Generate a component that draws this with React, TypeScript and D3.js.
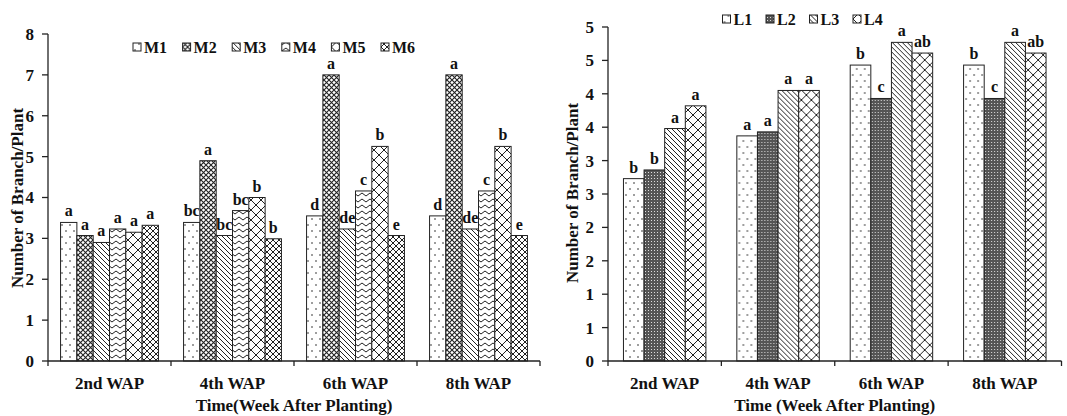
import React from "react";
import * as d3 from "d3";

// ---- data ----
const weeks = ["2nd WAP", "4th WAP", "6th WAP", "8th WAP"];

const mSeries = ["M1", "M2", "M3", "M4", "M5", "M6"];
const mValues = [
  [3.39, 3.07, 2.9, 3.23, 3.15, 3.32],
  [3.39, 4.9, 3.07, 3.68, 4.0, 2.99],
  [3.55, 7.0, 3.23, 4.16, 5.25, 3.07],
  [3.55, 7.0, 3.23, 4.16, 5.25, 3.07],
];
const mLetters = [
  ["a", "a", "a", "a", "a", "a"],
  ["bc", "a", "bc", "bc", "b", "b"],
  ["d", "a", "de", "c", "b", "e"],
  ["d", "a", "de", "c", "b", "e"],
];
const mTicks = [0, 1, 2, 3, 4, 5, 6, 7, 8];

const lSeries = ["L1", "L2", "L3", "L4"];
const lValues = [
  [2.73, 2.86, 3.48, 3.82],
  [3.37, 3.43, 4.05, 4.05],
  [4.43, 3.93, 4.77, 4.61],
  [4.43, 3.93, 4.77, 4.61],
];
const lLetters = [
  ["b", "b", "a", "a"],
  ["a", "a", "a", "a"],
  ["b", "c", "a", "ab"],
  ["b", "c", "a", "ab"],
];
const lTicks = [0, 0.5, 1, 1.5, 2, 2.5, 3, 3.5, 4, 4.5, 5];

const INK = "#222";
const FONT = "'Liberation Serif', 'Times New Roman', serif";

const mPatterns = ["dots", "fine", "diag", "zig", "bigx", "midx"];
const lPatterns = ["dots", "dense", "diag", "bigx"];

function Patterns() {
  return (
    <defs>
      <pattern id="dots" width="8" height="12" patternUnits="userSpaceOnUse">
        <rect width="8" height="12" fill="#fff" />
        <circle cx="2" cy="3" r="0.8" fill={INK} />
        <circle cx="6" cy="9" r="0.8" fill={INK} />
      </pattern>
      <pattern id="fine" width="5" height="5" patternUnits="userSpaceOnUse">
        <rect width="5" height="5" fill="#fff" />
        <path d="M0,0L5,5M5,0L0,5" stroke={INK} strokeWidth="1.1" />
      </pattern>
      <pattern id="dense" width="3" height="3" patternUnits="userSpaceOnUse">
        <rect width="3" height="3" fill="#555" />
        <rect x="1" y="1" width="1" height="1" fill="#ddd" />
      </pattern>
      <pattern id="diag" width="5" height="5" patternUnits="userSpaceOnUse">
        <rect width="5" height="5" fill="#fff" />
        <path d="M-1,-1L6,6M-1,4L1,6M4,-1L6,1" stroke={INK} strokeWidth="1" />
      </pattern>
      <pattern id="zig" width="8" height="6" patternUnits="userSpaceOnUse">
        <rect width="8" height="6" fill="#fff" />
        <path d="M0,4L4,1L8,4" fill="none" stroke={INK} strokeWidth="1" />
      </pattern>
      <pattern id="bigx" width="10" height="10" patternUnits="userSpaceOnUse">
        <rect width="10" height="10" fill="#fff" />
        <path d="M0,0L10,10M10,0L0,10" stroke={INK} strokeWidth="1" />
      </pattern>
      <pattern id="midx" width="6" height="6" patternUnits="userSpaceOnUse">
        <rect width="6" height="6" fill="#fff" />
        <path d="M0,0L6,6M6,0L0,6" stroke={INK} strokeWidth="1" />
      </pattern>
    </defs>
  );
}

type PanelProps = {
  series: string[];
  values: number[][];
  letters: string[][];
  patterns: string[];
  ticks: number[];
  yMax: number;
  xRange: [number, number];
  yTop: number;
  pad: number;
  fmt: (v: number) => string;
  xTitle: string;
  yTitleX: number;
  yTitleY: number;
  legendX: number;
  legendY: number;
  legendStep: number;
};

function Panel(p: PanelProps) {
  const base = 361;
  const y = d3.scaleLinear().domain([0, p.yMax]).range([base, p.yTop]);
  const x0 = d3.scaleBand<string>().domain(weeks).range(p.xRange);
  const x1 = d3
    .scaleBand<string>()
    .domain(p.series)
    .range([0, x0.bandwidth()])
    .paddingInner(0)
    .paddingOuter(p.pad);
  const axisX = p.xRange[0];
  const bounds = weeks.map((w) => x0(w)!).concat([p.xRange[1]]);
  const xMid = (p.xRange[0] + p.xRange[1]) / 2;

  return (
    <g fontFamily={FONT} fontWeight="bold" fill="#111">
      {p.values.map((row, gi) => (
        <g key={gi} transform={`translate(${x0(weeks[gi])},0)`}>
          {row.map((v, si) => (
            <g key={si}>
              <rect
                x={x1(p.series[si])}
                y={y(v)}
                width={x1.bandwidth()}
                height={base - y(v)}
                fill={`url(#${p.patterns[si]})`}
                stroke={INK}
                strokeWidth={1}
              />
              <text
                x={x1(p.series[si])! + x1.bandwidth() / 2}
                y={y(v) - 6}
                textAnchor="middle"
                fontSize={16}
              >
                {p.letters[gi][si]}
              </text>
            </g>
          ))}
        </g>
      ))}
      {/* y axis */}
      <line x1={axisX} x2={axisX} y1={p.yTop} y2={base} stroke={INK} strokeWidth={1.3} />
      {p.ticks.map((t) => (
        <g key={t}>
          <line x1={axisX - 6} x2={axisX} y1={y(t)} y2={y(t)} stroke={INK} strokeWidth={1.3} />
          <text x={axisX - 14} y={y(t)} dy="0.35em" textAnchor="end" fontSize={17}>
            {p.fmt(t)}
          </text>
        </g>
      ))}
      {/* x axis */}
      <line x1={p.xRange[0]} x2={p.xRange[1]} y1={base} y2={base} stroke={INK} strokeWidth={1.3} />
      {bounds.map((b, i) => (
        <line key={i} x1={b} x2={b} y1={base} y2={base + 5} stroke={INK} strokeWidth={1.3} />
      ))}
      {weeks.map((w) => (
        <text key={w} x={x0(w)! + x0.bandwidth() / 2} y={389} textAnchor="middle" fontSize={17}>
          {w}
        </text>
      ))}
      <text x={xMid} y={411} textAnchor="middle" fontSize={17}>
        {p.xTitle}
      </text>
      <text
        transform={`translate(${p.yTitleX},${p.yTitleY}) rotate(-90)`}
        textAnchor="middle"
        dy="0.35em"
        fontSize={17}
      >
        Number of Branch/Plant
      </text>
      {/* legend */}
      {p.series.map((s, i) => (
        <g key={s} transform={`translate(${p.legendX + i * p.legendStep},${p.legendY})`}>
          <rect x={0} y={-4} width={8} height={8} fill={`url(#${p.patterns[i]})`} stroke={INK} strokeWidth={1} />
          <text x={11} y={0} dy="0.35em" fontSize={16}>
            {s}
          </text>
        </g>
      ))}
    </g>
  );
}

export default function App() {
  return (
    <svg
      width={1067}
      height={416}
      style={{ position: "absolute", left: 0, top: 0, background: "#fff" }}
    >
      <Patterns />
      <Panel
        series={mSeries}
        values={mValues}
        letters={mLetters}
        patterns={mPatterns}
        ticks={mTicks}
        yMax={8}
        xRange={[48, 540]}
        yTop={34}
        pad={0.77}
        fmt={(v) => String(v)}
        xTitle="Time(Week After Planting)"
        yTitleX={17}
        yTitleY={198}
        legendX={133}
        legendY={47}
        legendStep={49.6}
      />
      <Panel
        series={lSeries}
        values={lValues}
        letters={lLetters}
        patterns={lPatterns}
        ticks={lTicks}
        yMax={5}
        xRange={[608, 1061.5]}
        yTop={27}
        pad={0.75}
        fmt={(v) => String(Math.round(v))}
        xTitle="Time (Week After Planting)"
        yTitleX={572}
        yTitleY={193}
        legendX={722.5}
        legendY={19}
        legendStep={43.5}
      />
    </svg>
  );
}
